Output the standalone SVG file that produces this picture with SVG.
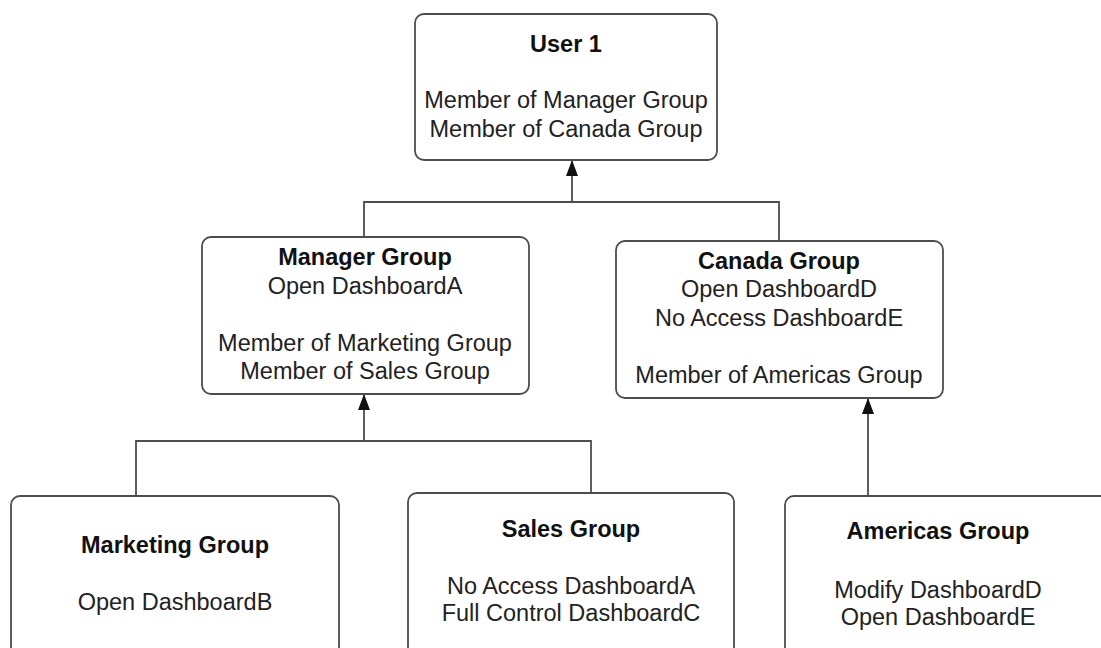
<svg xmlns="http://www.w3.org/2000/svg" width="1101" height="648" viewBox="0 0 1101 648">
<style>
.box{fill:#fff;stroke:#4d4d4d;stroke-width:1.8}
.ln{fill:none;stroke:#4d4d4d;stroke-width:1.8}
text{font-family:'Liberation Sans',sans-serif;font-size:23.5px;fill:#222;text-anchor:middle}
.t{font-weight:bold;fill:#111}
</style>
<defs>
<marker id="ah" viewBox="0 0 16 12" refX="15" refY="6" markerWidth="16" markerHeight="12" markerUnits="userSpaceOnUse" orient="auto">
<path d="M0,0 L16,6 L0,12 Z" fill="#111"/>
</marker>
</defs>
<rect width="1101" height="648" fill="#fff"/>
<g id="connectors">
<path class="ln" d="M364,237 V202 H779 V241"/>
<path class="ln" d="M572,202 V161" marker-end="url(#ah)"/>
<path class="ln" d="M136,496 V441 H591 V493"/>
<path class="ln" d="M364,441 V395" marker-end="url(#ah)"/>
<path class="ln" d="M868,496 V399" marker-end="url(#ah)"/>
</g>
<g id="user1" font-family="Liberation Sans, sans-serif">
<rect class="box" x="415" y="14" width="302" height="146" rx="9"/>
<text class="t" x="566" y="52">User 1</text>
<text x="566" y="108">Member of Manager Group</text>
<text x="566" y="137">Member of Canada Group</text>
</g>
<g id="manager" font-family="Liberation Sans, sans-serif">
<rect class="box" x="202" y="237" width="327" height="157" rx="9"/>
<text class="t" x="365" y="265">Manager Group</text>
<text x="365" y="294">Open DashboardA</text>
<text x="365" y="351">Member of Marketing Group</text>
<text x="365" y="379">Member of Sales Group</text>
</g>
<g id="canada" font-family="Liberation Sans, sans-serif">
<rect class="box" x="616" y="241" width="327" height="157" rx="9"/>
<text class="t" x="779" y="269">Canada Group</text>
<text x="779" y="297">Open DashboardD</text>
<text x="779" y="326">No Access DashboardE</text>
<text x="779" y="383">Member of Americas Group</text>
</g>
<g id="marketing" font-family="Liberation Sans, sans-serif">
<rect class="box" x="11" y="496" width="328" height="175" rx="9"/>
<text class="t" x="175" y="553">Marketing Group</text>
<text x="175" y="610">Open DashboardB</text>
</g>
<g id="sales" font-family="Liberation Sans, sans-serif">
<rect class="box" x="408" y="493" width="326" height="175" rx="9"/>
<text class="t" x="571" y="537">Sales Group</text>
<text x="571" y="594">No Access DashboardA</text>
<text x="571" y="621">Full Control DashboardC</text>
</g>
<g id="americas" font-family="Liberation Sans, sans-serif">
<rect class="box" x="785" y="496" width="330" height="175" rx="9"/>
<text class="t" x="938" y="539">Americas Group</text>
<text x="938" y="598">Modify DashboardD</text>
<text x="938" y="625">Open DashboardE</text>
</g>
</svg>
